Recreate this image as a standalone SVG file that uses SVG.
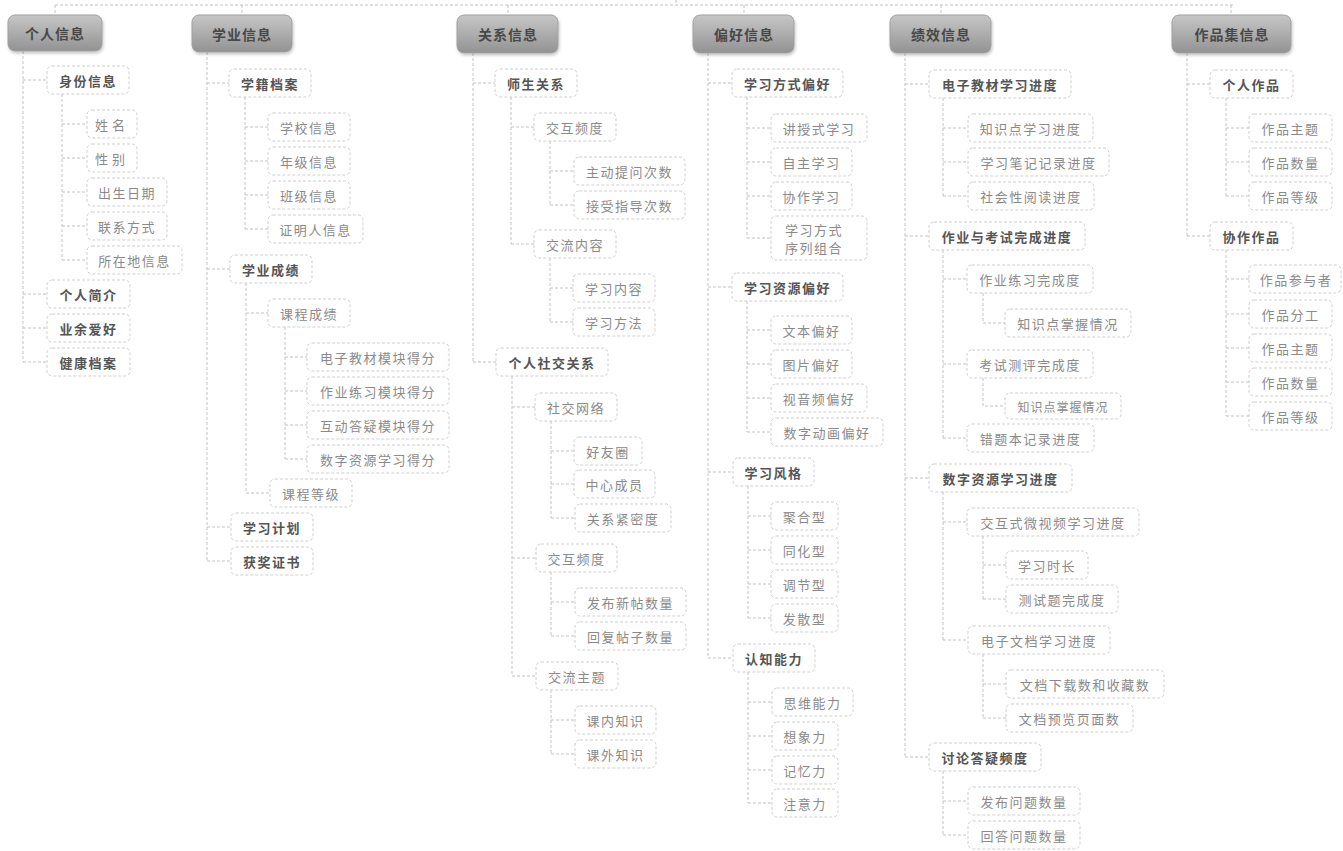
<svg xmlns="http://www.w3.org/2000/svg" width="1343" height="851" viewBox="0 0 1343 851">
<defs>
<linearGradient id="tg" x1="0" y1="0" x2="0" y2="1">
<stop offset="0" stop-color="#c6c6c6"/>
<stop offset="0.5" stop-color="#adadad"/>
<stop offset="1" stop-color="#929292"/>
</linearGradient>
<filter id="sh" x="-10%" y="-20%" width="130%" height="160%">
<feDropShadow dx="1" dy="2" stdDeviation="1.5" flood-color="#000" flood-opacity="0.22"/>
</filter>
</defs>
<style>
text{font-family:"Noto Sans CJK SC","Noto Sans CJK TC",sans-serif;text-anchor:middle;dominant-baseline:central}
.top rect{fill:url(#tg);stroke:#a0a0a0;stroke-width:1;filter:url(#sh)}
.top text{font-size:14px;font-weight:700;fill:#484848;letter-spacing:1px}
.b rect{fill:#fff;stroke:#cfcfcf;stroke-width:1;stroke-dasharray:3 2}
.l2 text{font-size:13px;font-weight:700;fill:#555;letter-spacing:1.5px}
.l3 text{font-size:13px;font-weight:400;fill:#8a8a8a;letter-spacing:1.5px}
.c path{fill:none;stroke:#c2c2c2;stroke-width:1;stroke-dasharray:3 2}
</style>
<g class="c" id="connectors">
<path d="M55 5H1233M676 0V5M55 5V15M242 5V15M508 5V15M744 5V15M941 5V15M1231 5V15"/>
<path d="M23 51V362M23 80H47M23 294H47M23 328H47M23 362H47"/>
<path d="M62 94V260M62 124H87M62 158H87M62 192H87M62 226H87M62 260H87"/>
<path d="M207 52V561M207 83H229M207 269H230M207 527H231M207 561H231"/>
<path d="M245 97V229M245 127H268M245 161H268M245 195H268M245 229H268"/>
<path d="M246 283V493M246 313H268M246 493H270"/>
<path d="M285 327V459M285 357H307M285 391H307M285 425H307M285 459H307"/>
<path d="M473 53V362M473 83H495M473 362H496"/>
<path d="M511 97V244M511 127H534M511 244H534"/>
<path d="M550 141V205M550 171H574M550 205H574"/>
<path d="M550 258V322M550 288H573M550 322H573"/>
<path d="M512 376V676M512 407H535M512 558H536M512 676H536"/>
<path d="M551 421V518M551 451H574M551 484H574M551 518H575"/>
<path d="M551 572V636M551 602H575M551 636H575"/>
<path d="M551 690V754M551 720H575M551 754H575"/>
<path d="M708 53V658M708 83H732M708 287H732M708 472H733M708 658H733"/>
<path d="M747 97V238M747 128H771M747 162H771M747 196H771M747 238H771"/>
<path d="M747 301V432M747 330H771M747 364H771M747 398H771M747 432H771"/>
<path d="M748 486V618M748 516H771M748 550H771M748 584H771M748 618H771"/>
<path d="M748 672V803M748 702H772M748 736H772M748 770H772M748 803H772"/>
<path d="M905 53V757M905 84H929M905 236H929M905 478H929M905 757H929"/>
<path d="M943 98V196M943 128H968M943 162H968M943 196H968"/>
<path d="M943 250V438M943 279H967M943 364H967M943 438H967"/>
<path d="M983 293V323H1005M983 378V406H1005"/>
<path d="M943 492V640M943 522H967M943 640H968"/>
<path d="M983 536V599M983 565H1006M983 599H1006"/>
<path d="M983 654V718M983 684H1006M983 718H1006"/>
<path d="M943 771V835M943 801H968M943 835H968"/>
<path d="M1187 53V236M1187 84H1210M1187 236H1210"/>
<path d="M1226 98V196M1226 128H1249M1226 162H1249M1226 196H1249"/>
<path d="M1226 250V416M1226 279H1249M1226 314H1249M1226 348H1249M1226 382H1249M1226 416H1249"/>
</g>

<g id="n-geren" class="top"><rect x="8" y="15" width="94" height="36" rx="7"/><text x="55" y="33">个人信息</text></g>
<g id="n-xueye" class="top"><rect x="192" y="15" width="100" height="37" rx="7"/><text x="242" y="33.5">学业信息</text></g>
<g id="n-guanxi" class="top"><rect x="457" y="15" width="101" height="38" rx="7"/><text x="508" y="34">关系信息</text></g>
<g id="n-pianhao" class="top"><rect x="693" y="15" width="101" height="38" rx="7"/><text x="744" y="34">偏好信息</text></g>
<g id="n-jixiao" class="top"><rect x="890" y="15" width="101" height="38" rx="7"/><text x="941" y="34">绩效信息</text></g>
<g id="n-zuopinji" class="top"><rect x="1172" y="15" width="119" height="38" rx="7"/><text x="1232" y="34">作品集信息</text></g>

<g id="n-shenfen" class="b l2"><rect x="47" y="66" width="82" height="28" rx="5"/><text x="88" y="80">身份信息</text></g>
<g id="n-xingming" class="b l3"><rect x="87" y="110" width="50" height="28" rx="5"/><text x="112" y="124" style="letter-spacing:4px">姓名</text></g>
<g id="n-xingbie" class="b l3"><rect x="87" y="144" width="50" height="28" rx="5"/><text x="112" y="158" style="letter-spacing:4px">性别</text></g>
<g id="n-chusheng" class="b l3"><rect x="87" y="178" width="80" height="28" rx="5"/><text x="127" y="192">出生日期</text></g>
<g id="n-lianxi" class="b l3"><rect x="87" y="212" width="80" height="28" rx="5"/><text x="127" y="226">联系方式</text></g>
<g id="n-suozaidi" class="b l3"><rect x="87" y="246" width="95" height="28" rx="5"/><text x="134.5" y="260">所在地信息</text></g>
<g id="n-jianjie" class="b l2"><rect x="47" y="280" width="83" height="28" rx="5"/><text x="88.5" y="294">个人简介</text></g>
<g id="n-aihao" class="b l2"><rect x="47" y="314" width="83" height="28" rx="5"/><text x="88.5" y="328">业余爱好</text></g>
<g id="n-jiankang" class="b l2"><rect x="47" y="348" width="83" height="28" rx="5"/><text x="88.5" y="362">健康档案</text></g>

<g id="n-xueji" class="b l2"><rect x="229" y="69" width="82" height="28" rx="5"/><text x="270" y="83">学籍档案</text></g>
<g id="n-xuexiao" class="b l3"><rect x="268" y="113" width="82" height="28" rx="5"/><text x="309" y="127">学校信息</text></g>
<g id="n-nianji" class="b l3"><rect x="268" y="147" width="82" height="28" rx="5"/><text x="309" y="161">年级信息</text></g>
<g id="n-banji" class="b l3"><rect x="268" y="181" width="82" height="28" rx="5"/><text x="309" y="195">班级信息</text></g>
<g id="n-zhengming" class="b l3"><rect x="268" y="215" width="95" height="28" rx="5"/><text x="315.5" y="229">证明人信息</text></g>
<g id="n-chengji" class="b l2"><rect x="230" y="255" width="82" height="28" rx="5"/><text x="271" y="269">学业成绩</text></g>
<g id="n-kecheng" class="b l3"><rect x="268" y="299" width="82" height="28" rx="5"/><text x="309" y="313">课程成绩</text></g>
<g id="n-dianzi" class="b l3"><rect x="307" y="343" width="142" height="28" rx="5"/><text x="378" y="357">电子教材模块得分</text></g>
<g id="n-zuoye" class="b l3"><rect x="307" y="377" width="142" height="28" rx="5"/><text x="378" y="391">作业练习模块得分</text></g>
<g id="n-hudong" class="b l3"><rect x="307" y="411" width="142" height="28" rx="5"/><text x="378" y="425">互动答疑模块得分</text></g>
<g id="n-shuzi" class="b l3"><rect x="307" y="445" width="142" height="28" rx="5"/><text x="378" y="459">数字资源学习得分</text></g>
<g id="n-dengji" class="b l3"><rect x="270" y="479" width="82" height="28" rx="5"/><text x="311" y="493">课程等级</text></g>
<g id="n-jihua" class="b l2"><rect x="231" y="513" width="82" height="28" rx="5"/><text x="272" y="527">学习计划</text></g>
<g id="n-huojiang" class="b l2"><rect x="231" y="547" width="82" height="28" rx="5"/><text x="272" y="561">获奖证书</text></g>

<g id="n-shisheng" class="b l2"><rect x="495" y="69" width="82" height="28" rx="5"/><text x="536" y="83">师生关系</text></g>
<g id="n-jiaohu1" class="b l3"><rect x="534" y="113" width="82" height="28" rx="5"/><text x="575" y="127">交互频度</text></g>
<g id="n-tiwen" class="b l3"><rect x="574" y="157" width="111" height="28" rx="5"/><text x="629.5" y="171">主动提问次数</text></g>
<g id="n-zhidao" class="b l3"><rect x="574" y="191" width="111" height="28" rx="5"/><text x="629.5" y="205">接受指导次数</text></g>
<g id="n-jiaoliu" class="b l3"><rect x="534" y="230" width="82" height="28" rx="5"/><text x="575" y="244">交流内容</text></g>
<g id="n-neirong" class="b l3"><rect x="573" y="274" width="82" height="28" rx="5"/><text x="614" y="288">学习内容</text></g>
<g id="n-fangfa" class="b l3"><rect x="573" y="308" width="82" height="28" rx="5"/><text x="614" y="322">学习方法</text></g>
<g id="n-shejiao" class="b l2"><rect x="496" y="348" width="112" height="28" rx="5"/><text x="552" y="362">个人社交关系</text></g>
<g id="n-wangluo" class="b l3"><rect x="535" y="393" width="82" height="28" rx="5"/><text x="576" y="407">社交网络</text></g>
<g id="n-haoyou" class="b l3"><rect x="574" y="437" width="68" height="28" rx="5"/><text x="608" y="451">好友圈</text></g>
<g id="n-zhongxin" class="b l3"><rect x="574" y="470" width="81" height="28" rx="5"/><text x="614.5" y="484">中心成员</text></g>
<g id="n-jinmi" class="b l3"><rect x="575" y="504" width="96" height="28" rx="5"/><text x="623" y="518">关系紧密度</text></g>
<g id="n-jiaohu2" class="b l3"><rect x="536" y="544" width="81" height="28" rx="5"/><text x="576.5" y="558">交互频度</text></g>
<g id="n-faxin" class="b l3"><rect x="575" y="588" width="111" height="28" rx="5"/><text x="630.5" y="602">发布新帖数量</text></g>
<g id="n-huifu" class="b l3"><rect x="575" y="622" width="111" height="28" rx="5"/><text x="630.5" y="636">回复帖子数量</text></g>
<g id="n-zhuti" class="b l3"><rect x="536" y="662" width="82" height="28" rx="5"/><text x="577" y="676">交流主题</text></g>
<g id="n-kenei" class="b l3"><rect x="575" y="706" width="81" height="28" rx="5"/><text x="615.5" y="720">课内知识</text></g>
<g id="n-kewai" class="b l3"><rect x="575" y="740" width="81" height="28" rx="5"/><text x="615.5" y="754">课外知识</text></g>

<g id="n-fangshi" class="b l2"><rect x="732" y="69" width="111" height="28" rx="5"/><text x="787.5" y="83">学习方式偏好</text></g>
<g id="n-jiangshou" class="b l3"><rect x="771" y="114" width="96" height="28" rx="5"/><text x="819" y="128">讲授式学习</text></g>
<g id="n-zizhu" class="b l3"><rect x="771" y="148" width="81" height="28" rx="5"/><text x="811.5" y="162">自主学习</text></g>
<g id="n-xiezuo" class="b l3"><rect x="771" y="182" width="81" height="28" rx="5"/><text x="811.5" y="196">协作学习</text></g>
<g id="n-xulie" class="b l3"><rect x="771" y="216" width="96" height="44" rx="5"/><text x="814" y="229">学习方式</text><text x="814" y="247">序列组合</text></g>
<g id="n-ziyuan" class="b l2"><rect x="732" y="273" width="111" height="28" rx="5"/><text x="787.5" y="287">学习资源偏好</text></g>
<g id="n-wenben" class="b l3"><rect x="771" y="316" width="81" height="28" rx="5"/><text x="811.5" y="330">文本偏好</text></g>
<g id="n-tupian" class="b l3"><rect x="771" y="350" width="81" height="28" rx="5"/><text x="811.5" y="364">图片偏好</text></g>
<g id="n-shiyin" class="b l3"><rect x="771" y="384" width="96" height="28" rx="5"/><text x="819" y="398">视音频偏好</text></g>
<g id="n-donghua" class="b l3"><rect x="771" y="418" width="112" height="28" rx="5"/><text x="827" y="432">数字动画偏好</text></g>
<g id="n-fengge" class="b l2"><rect x="733" y="458" width="81" height="28" rx="5"/><text x="773.5" y="472">学习风格</text></g>
<g id="n-juhe" class="b l3"><rect x="771" y="502" width="67" height="28" rx="5"/><text x="804.5" y="516">聚合型</text></g>
<g id="n-tonghua" class="b l3"><rect x="771" y="536" width="67" height="28" rx="5"/><text x="804.5" y="550">同化型</text></g>
<g id="n-tiaojie" class="b l3"><rect x="771" y="570" width="67" height="28" rx="5"/><text x="804.5" y="584">调节型</text></g>
<g id="n-fasan" class="b l3"><rect x="771" y="604" width="67" height="28" rx="5"/><text x="804.5" y="618">发散型</text></g>
<g id="n-renzhi" class="b l2"><rect x="733" y="644" width="82" height="28" rx="5"/><text x="774" y="658">认知能力</text></g>
<g id="n-siwei" class="b l3"><rect x="772" y="688" width="81" height="28" rx="5"/><text x="812.5" y="702">思维能力</text></g>
<g id="n-xiangxiang" class="b l3"><rect x="772" y="722" width="66" height="28" rx="5"/><text x="805" y="736">想象力</text></g>
<g id="n-jiyi" class="b l3"><rect x="772" y="756" width="66" height="28" rx="5"/><text x="805" y="770">记忆力</text></g>
<g id="n-zhuyi" class="b l3"><rect x="772" y="789" width="66" height="28" rx="5"/><text x="805" y="803">注意力</text></g>

<g id="n-jiaocai" class="b l2"><rect x="929" y="70" width="142" height="28" rx="5"/><text x="1000" y="84">电子教材学习进度</text></g>
<g id="n-zhishidian" class="b l3"><rect x="968" y="114" width="125" height="28" rx="5"/><text x="1030.5" y="128">知识点学习进度</text></g>
<g id="n-biji" class="b l3"><rect x="968" y="148" width="141" height="28" rx="5"/><text x="1038.5" y="162">学习笔记记录进度</text></g>
<g id="n-yuedu" class="b l3"><rect x="968" y="182" width="126" height="28" rx="5"/><text x="1031" y="196">社会性阅读进度</text></g>
<g id="n-kaoshi" class="b l2"><rect x="929" y="222" width="156" height="28" rx="5"/><text x="1007" y="236">作业与考试完成进度</text></g>
<g id="n-zuoyewc" class="b l3"><rect x="967" y="265" width="126" height="28" rx="5"/><text x="1030" y="279">作业练习完成度</text></g>
<g id="n-zhangwo1" class="b l3"><rect x="1005" y="309" width="126" height="28" rx="5"/><text x="1068" y="323">知识点掌握情况</text></g>
<g id="n-ceping" class="b l3"><rect x="967" y="350" width="126" height="28" rx="5"/><text x="1030" y="364">考试测评完成度</text></g>
<g id="n-zhangwo2" class="b l3"><rect x="1005" y="393" width="116" height="26" rx="5"/><text x="1063" y="406" style="font-size:12px;letter-spacing:1px">知识点掌握情况</text></g>
<g id="n-cuoti" class="b l3"><rect x="967" y="424" width="127" height="28" rx="5"/><text x="1030.5" y="438">错题本记录进度</text></g>
<g id="n-shuziziyuan" class="b l2"><rect x="929" y="464" width="143" height="28" rx="5"/><text x="1000.5" y="478">数字资源学习进度</text></g>
<g id="n-weishipin" class="b l3"><rect x="967" y="508" width="172" height="28" rx="5"/><text x="1053" y="522">交互式微视频学习进度</text></g>
<g id="n-shichang" class="b l3"><rect x="1006" y="551" width="82" height="28" rx="5"/><text x="1047" y="565">学习时长</text></g>
<g id="n-ceshiti" class="b l3"><rect x="1006" y="585" width="112" height="28" rx="5"/><text x="1062" y="599">测试题完成度</text></g>
<g id="n-wendang" class="b l3"><rect x="968" y="626" width="142" height="28" rx="5"/><text x="1039" y="640">电子文档学习进度</text></g>
<g id="n-xiazai" class="b l3"><rect x="1006" y="670" width="158" height="28" rx="5"/><text x="1085" y="684">文档下载数和收藏数</text></g>
<g id="n-yulan" class="b l3"><rect x="1006" y="704" width="127" height="28" rx="5"/><text x="1069.5" y="718">文档预览页面数</text></g>
<g id="n-taolun" class="b l2"><rect x="929" y="743" width="112" height="28" rx="5"/><text x="985" y="757">讨论答疑频度</text></g>
<g id="n-fabu" class="b l3"><rect x="968" y="787" width="112" height="28" rx="5"/><text x="1024" y="801">发布问题数量</text></g>
<g id="n-huida" class="b l3"><rect x="968" y="821" width="112" height="28" rx="5"/><text x="1024" y="835">回答问题数量</text></g>

<g id="n-gerenzp" class="b l2"><rect x="1210" y="70" width="83" height="28" rx="5"/><text x="1251.5" y="84">个人作品</text></g>
<g id="n-zp-zhuti1" class="b l3"><rect x="1249" y="114" width="83" height="28" rx="5"/><text x="1290.5" y="128">作品主题</text></g>
<g id="n-zp-shuliang1" class="b l3"><rect x="1249" y="148" width="83" height="28" rx="5"/><text x="1290.5" y="162">作品数量</text></g>
<g id="n-zp-dengji1" class="b l3"><rect x="1249" y="182" width="83" height="28" rx="5"/><text x="1290.5" y="196">作品等级</text></g>
<g id="n-xiezuozp" class="b l2"><rect x="1210" y="222" width="83" height="28" rx="5"/><text x="1251.5" y="236">协作作品</text></g>
<g id="n-zp-canyu" class="b l3"><rect x="1249" y="265" width="92" height="28" rx="5"/><text x="1296" y="279">作品参与者</text></g>
<g id="n-zp-fengong" class="b l3"><rect x="1249" y="300" width="83" height="28" rx="5"/><text x="1290.5" y="314">作品分工</text></g>
<g id="n-zp-zhuti2" class="b l3"><rect x="1249" y="334" width="83" height="28" rx="5"/><text x="1290.5" y="348">作品主题</text></g>
<g id="n-zp-shuliang2" class="b l3"><rect x="1249" y="368" width="83" height="28" rx="5"/><text x="1290.5" y="382">作品数量</text></g>
<g id="n-zp-dengji2" class="b l3"><rect x="1249" y="402" width="83" height="28" rx="5"/><text x="1290.5" y="416">作品等级</text></g>
</svg>
